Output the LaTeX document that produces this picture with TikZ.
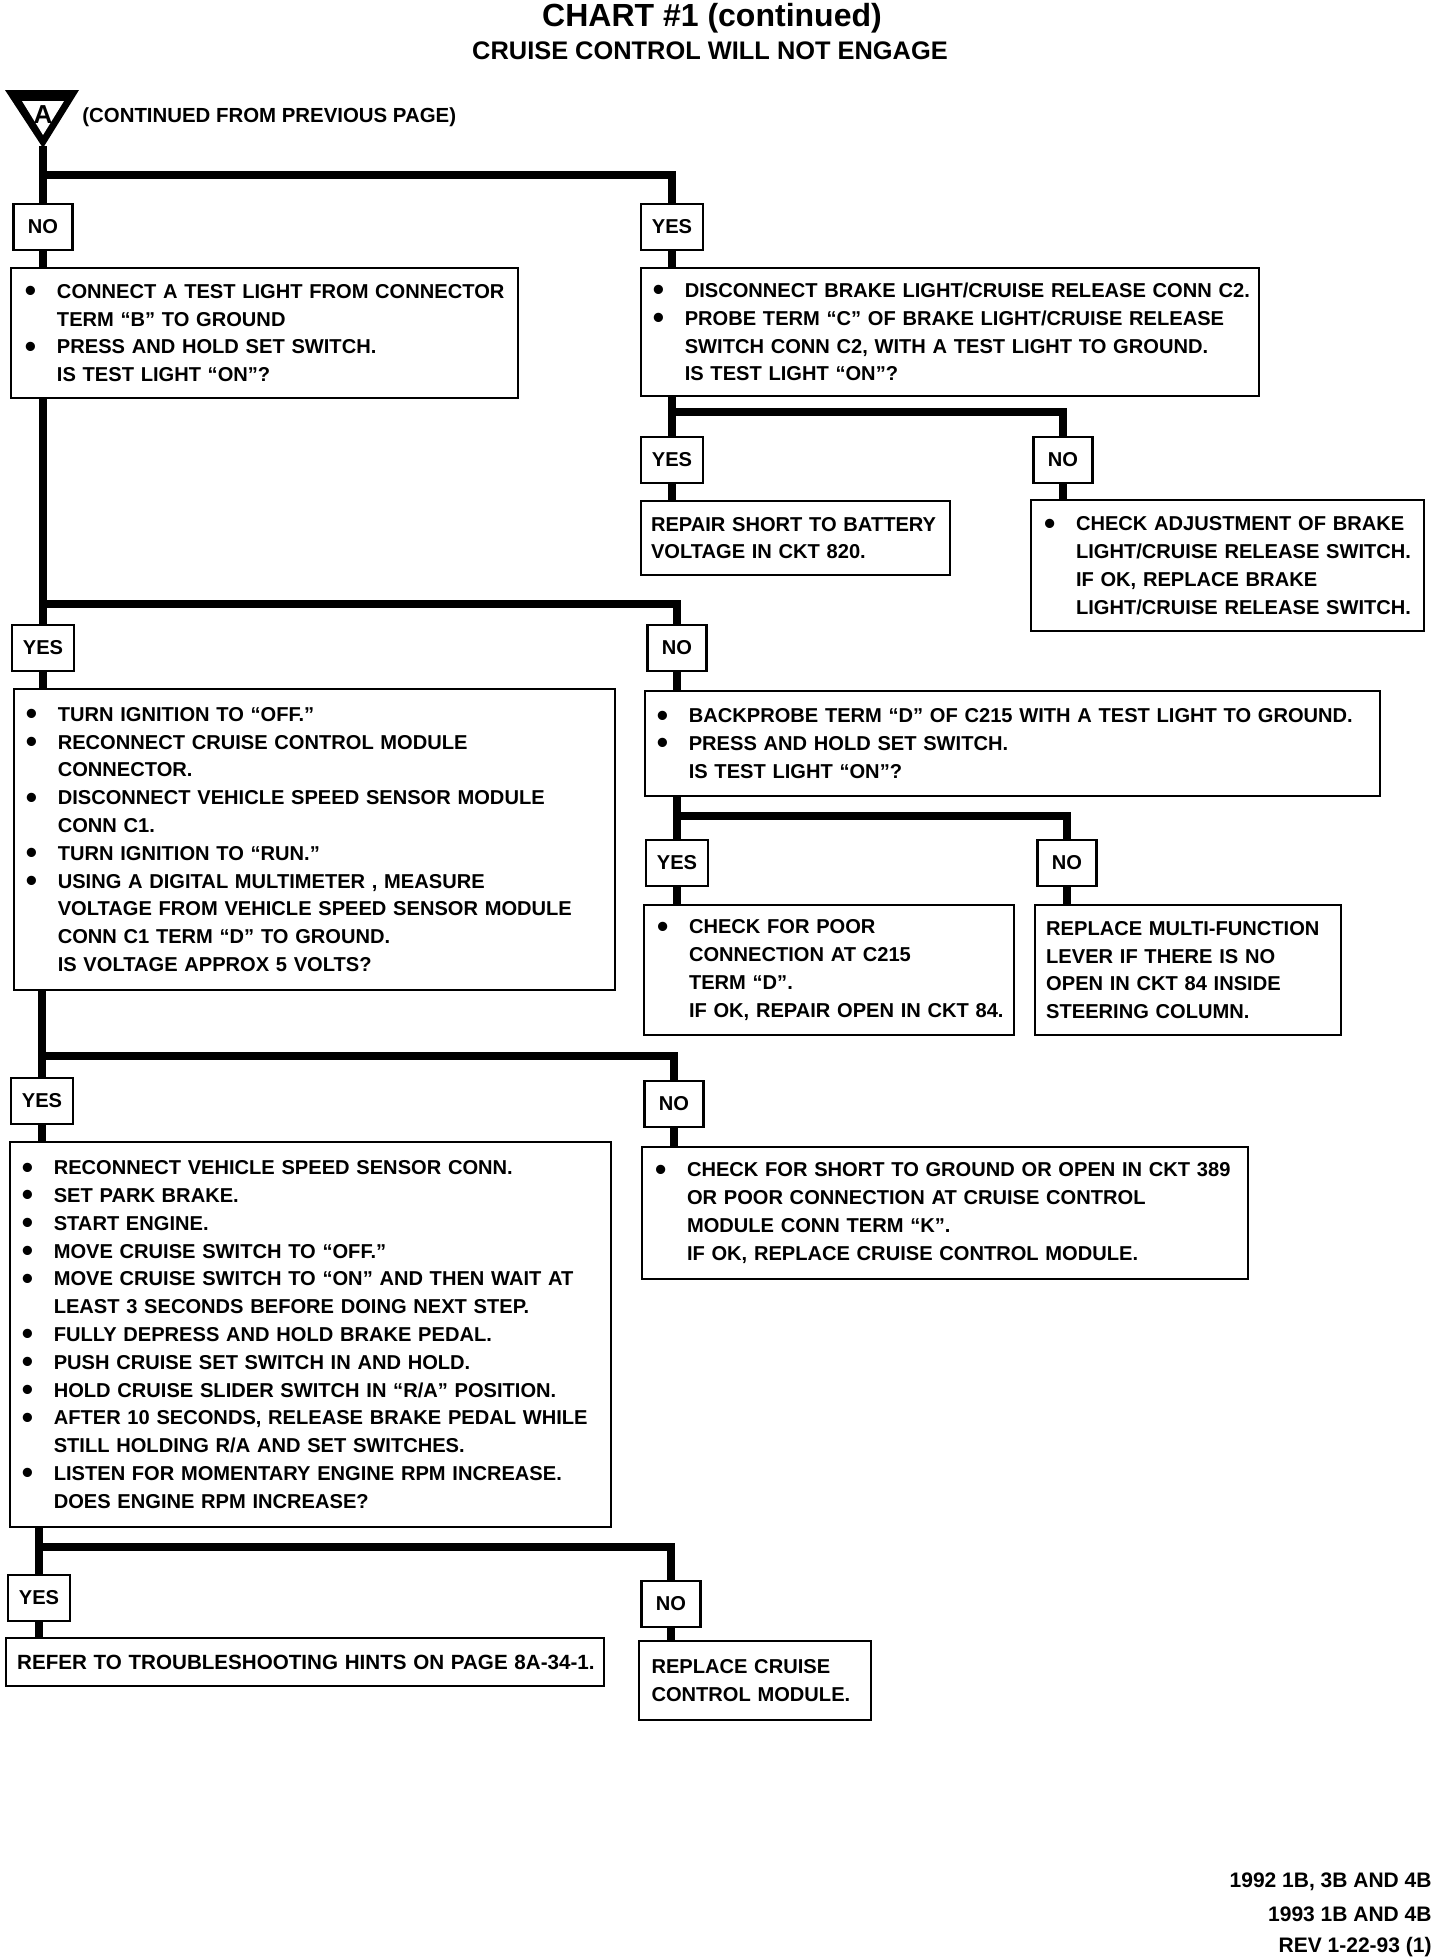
\documentclass[tikz,border=0pt]{standalone}
\usepackage{fontspec}
\setmainfont{Liberation Sans}
\usepackage{graphicx}
\newcommand\bitem[1]{\mbox{\makebox[16pt][l]{\smash{\raisebox{-1.7pt}{\scalebox{1.6}{\textbullet}}}}#1}}
\newcommand\bcont[1]{\mbox{\hspace*{16pt}#1}}
\newcommand\bline[1]{\mbox{#1}}
\begin{document}
\begin{tikzpicture}[x=0.5pt,y=-0.5pt,
  every node/.style={font=\bfseries\fontsize{10.05}{13.9}\selectfont},
  box/.style={draw, line width=1.3pt, anchor=north west, align=left, inner ysep=0pt, outer sep=0pt},
  lab/.style={draw, line width=1.3pt, anchor=north, minimum height=23pt, inner xsep=5.5pt, outer sep=0pt},
  labno/.style={lab, minimum width=29.5pt},
  trunk/.style={line width=4.2pt},
  branch/.style={line width=4.2pt, line cap=rect},
  title/.style={anchor=base, inner sep=0pt, font=\bfseries\fontsize{16}{18}\selectfont},
  subtitle/.style={anchor=base, inner sep=0pt, font=\bfseries\fontsize{12.7}{15}\selectfont},
  foot/.style={anchor=base east, inner sep=0pt, font=\bfseries\fontsize{10.5}{12}\selectfont},
]
\fill[white] (0,0) rectangle (1456,1960);
\useasboundingbox (0,0) rectangle (1456,1960);

% titles
\node[title] (t1) at (712,26) {CHART \#1 (continued)};
\node[subtitle] (t2) at (710,59) {CRUISE CONTROL WILL NOT ENGAGE};

% connector triangle A
\fill[black] (5,90) -- (79,90) -- (43,148) -- cycle;
\fill[white] (22,101) -- (64,101) -- (43,135) -- cycle;
\node[font=\bfseries\fontsize{13}{14}\selectfont] (A) at (43,115) {A};
\coordinate (apex) at (43,146);
\node[anchor=base west, inner sep=0pt, font=\bfseries\fontsize{10.2}{12}\selectfont] (cont) at (82,122) {(CONTINUED FROM PREVIOUS PAGE)};

% ---------- level 1
\node[labno] (no1) at (43,204) {NO};
\node[lab] (yes1) at (672,204) {YES};
\node[box, minimum width=253.5pt, minimum height=65pt, text width=239.5pt, inner xsep=7pt] (b1) at (11,268) {%
\bitem{CONNECT A TEST LIGHT FROM CONNECTOR}\\
\bcont{TERM “B” TO GROUND}\\
\bitem{PRESS AND HOLD SET SWITCH.}\\
\bcont{IS TEST LIGHT “ON”?}};
\node[box, minimum width=309pt, minimum height=64pt, text width=297.2pt, inner xsep=5.9pt] (b2) at (641,268) {%
\bitem{DISCONNECT BRAKE LIGHT/CRUISE RELEASE CONN C2.}\\
\bitem{PROBE TERM “C” OF BRAKE LIGHT/CRUISE RELEASE}\\
\bcont{SWITCH CONN C2, WITH A TEST LIGHT TO GROUND.}\\
\bcont{IS TEST LIGHT “ON”?}};

% ---------- level 2 right
\node[lab] (yes2) at (672,437) {YES};
\node[labno] (no2) at (1063,437) {NO};
\node[box, minimum width=154.5pt, minimum height=37pt, text width=144.5pt, inner xsep=5pt] (b2y) at (641,501) {%
\bline{REPAIR SHORT TO BATTERY}\\
\bline{VOLTAGE IN CKT 820.}};
\node[box, minimum width=196.5pt, minimum height=65.5pt, text width=183.5pt, inner xsep=6.5pt] (b2n) at (1031,500) {%
\bitem{CHECK ADJUSTMENT OF BRAKE}\\
\bcont{LIGHT/CRUISE RELEASE SWITCH.}\\
\bcont{IF OK, REPLACE BRAKE}\\
\bcont{LIGHT/CRUISE RELEASE SWITCH.}};

% ---------- level 3
\node[lab] (yes3) at (43,625) {YES};
\node[labno] (no3) at (677,625) {NO};
\node[box, minimum width=300.5pt, minimum height=150.5pt, text width=288.7pt, inner xsep=5.9pt] (b3) at (14,689) {%
\bitem{TURN IGNITION TO “OFF.”}\\
\bitem{RECONNECT CRUISE CONTROL MODULE}\\
\bcont{CONNECTOR.}\\
\bitem{DISCONNECT VEHICLE SPEED SENSOR MODULE}\\
\bcont{CONN C1.}\\
\bitem{TURN IGNITION TO “RUN.”}\\
\bitem{USING A DIGITAL MULTIMETER , MEASURE}\\
\bcont{VOLTAGE FROM VEHICLE SPEED SENSOR MODULE}\\
\bcont{CONN C1 TERM “D” TO GROUND.}\\
\bcont{IS VOLTAGE APPROX 5 VOLTS?}};
\node[box, minimum width=367.5pt, minimum height=52.5pt, text width=355.7pt, inner xsep=5.9pt] (b4) at (645,691) {%
\bitem{BACKPROBE TERM “D” OF C215 WITH A TEST LIGHT TO GROUND.}\\
\bitem{PRESS AND HOLD SET SWITCH.}\\
\bcont{IS TEST LIGHT “ON”?}};

% ---------- level 4 right
\node[lab] (yes4) at (677,840) {YES};
\node[labno] (no4) at (1067,840) {NO};
\node[box, minimum width=185pt, minimum height=65pt, text width=172pt, inner xsep=6.5pt] (b4y) at (644,905) {%
\bitem{CHECK FOR POOR}\\
\bcont{CONNECTION AT C215}\\
\bcont{TERM “D”.}\\
\bcont{IF OK, REPAIR OPEN IN CKT 84.}};
\node[box, minimum width=153pt, minimum height=65pt, text width=141.8pt, inner xsep=5.6pt] (b4n) at (1035,905) {%
\bline{REPLACE MULTI-FUNCTION}\\
\bline{LEVER IF THERE IS NO}\\
\bline{OPEN IN CKT 84 INSIDE}\\
\bline{STEERING COLUMN.}};

% ---------- level 5
\node[lab] (yes5) at (42,1078) {YES};
\node[labno] (no5) at (674,1081) {NO};
\node[box, minimum width=300.5pt, minimum height=192.5pt, text width=288.7pt, inner xsep=5.9pt] (b5) at (10,1142) {%
\bitem{RECONNECT VEHICLE SPEED SENSOR CONN.}\\
\bitem{SET PARK BRAKE.}\\
\bitem{START ENGINE.}\\
\bitem{MOVE CRUISE SWITCH TO “OFF.”}\\
\bitem{MOVE CRUISE SWITCH TO “ON” AND THEN WAIT AT}\\
\bcont{LEAST 3 SECONDS BEFORE DOING NEXT STEP.}\\
\bitem{FULLY DEPRESS AND HOLD BRAKE PEDAL.}\\
\bitem{PUSH CRUISE SET SWITCH IN AND HOLD.}\\
\bitem{HOLD CRUISE SLIDER SWITCH IN “R/A” POSITION.}\\
\bitem{AFTER 10 SECONDS, RELEASE BRAKE PEDAL WHILE}\\
\bcont{STILL HOLDING R/A AND SET SWITCHES.}\\
\bitem{LISTEN FOR MOMENTARY ENGINE RPM INCREASE.}\\
\bcont{DOES ENGINE RPM INCREASE?}};
\node[box, minimum width=303pt, minimum height=66pt, text width=290pt, inner xsep=6.5pt] (b6) at (642,1147) {%
\bitem{CHECK FOR SHORT TO GROUND OR OPEN IN CKT 389}\\
\bcont{OR POOR CONNECTION AT CRUISE CONTROL}\\
\bcont{MODULE CONN TERM “K”.}\\
\bcont{IF OK, REPLACE CRUISE CONTROL MODULE.}};

% ---------- level 6
\node[lab] (yes6) at (39,1575) {YES};
\node[labno] (no6) at (671,1581) {NO};
\node[box, minimum width=299pt, minimum height=24pt, text width=287.8pt, inner xsep=5.6pt] (b7y) at (6,1638) {%
\bline{\fontsize{10.3}{13.9}\selectfont REFER TO TROUBLESHOOTING HINTS ON PAGE 8A-34-1.}};
\node[box, minimum width=116pt, minimum height=39.5pt, text width=103.5pt, inner xsep=6.25pt] (b7n) at (639,1641) {%
\bline{REPLACE CRUISE}\\
\bline{CONTROL MODULE.}};

% ---------- footer
\node[foot] (f1) at (1432,1887) {1992 1B, 3B AND 4B};
\node[foot] (f2) at (1432,1921) {1993 1B AND 4B};
\node[foot] (f3) at (1432,1952) {REV 1-22-93 (1)};

% ---------- connectors
\coordinate (j1) at (43,175);
\draw[trunk] (apex) -- (no1.north);
\draw[branch] (j1) -- (j1 -| yes1.north);
\draw[trunk] (j1 -| yes1.north) -- (yes1.north);
\draw[trunk] (no1.south) -- (no1.south |- b1.north);
\draw[trunk] (yes1.south) -- (yes1.south |- b2.north);

\coordinate (j2) at (672,412);
\draw[trunk] (j2 |- b2.south) -- (yes2.north);
\draw[branch] (j2) -- (j2 -| no2.north);
\draw[trunk] (j2 -| no2.north) -- (no2.north);
\draw[trunk] (yes2.south) -- (yes2.south |- b2y.north);
\draw[trunk] (no2.south) -- (no2.south |- b2n.north);

\coordinate (j3) at (43,604);
\draw[trunk] (j3 |- b1.south) -- (yes3.north);
\draw[branch] (j3) -- (j3 -| no3.north);
\draw[trunk] (j3 -| no3.north) -- (no3.north);
\draw[trunk] (yes3.south) -- (yes3.south |- b3.north);
\draw[trunk] (no3.south) -- (no3.south |- b4.north);

\coordinate (j4) at (677,816);
\draw[trunk] (j4 |- b4.south) -- (yes4.north);
\draw[branch] (j4) -- (j4 -| no4.north);
\draw[trunk] (j4 -| no4.north) -- (no4.north);
\draw[trunk] (yes4.south) -- (yes4.south |- b4y.north);
\draw[trunk] (no4.south) -- (no4.south |- b4n.north);

\coordinate (j5) at (42,1056);
\draw[trunk] (j5 |- b3.south) -- (yes5.north);
\draw[branch] (j5) -- (j5 -| no5.north);
\draw[trunk] (j5 -| no5.north) -- (no5.north);
\draw[trunk] (yes5.south) -- (yes5.south |- b5.north);
\draw[trunk] (no5.south) -- (no5.south |- b6.north);

\coordinate (j6) at (39,1547);
\draw[trunk] (j6 |- b5.south) -- (yes6.north);
\draw[branch] (j6) -- (j6 -| no6.north);
\draw[trunk] (j6 -| no6.north) -- (no6.north);
\draw[trunk] (yes6.south) -- (yes6.south |- b7y.north);
\draw[trunk] (no6.south) -- (no6.south |- b7n.north);
\end{tikzpicture}
\end{document}
